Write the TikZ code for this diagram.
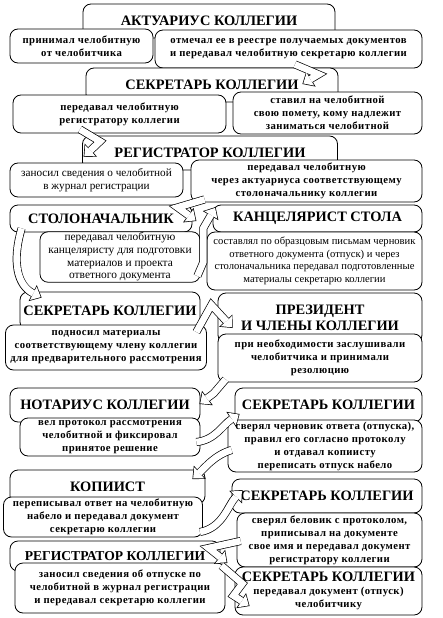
\documentclass[tikz,border=0pt]{standalone}
\usepackage{fontspec}
\setmainfont{Liberation Serif}
\newfontfamily\widefont[LetterSpace=4]{Liberation Serif}
\usetikzlibrary{arrows.meta,calc}

\begin{document}
\begin{tikzpicture}[x=1pt, y=-1pt,
  every node/.style={inner sep=1pt},
  head/.style={draw, line width=0.8pt, fill=white, rounded corners=8pt, align=center,
    font=\bfseries\fontsize{14.4}{16}\selectfont},
  note/.style={draw, line width=0.8pt, fill=white, rounded corners=8pt, align=center,
    font=\widefont\bfseries\fontsize{10.7}{13}\selectfont},
  plain note/.style={note, font=\fontsize{10.6}{12.6}\selectfont},
  flow/.style={line width=8pt, draw=black, line join=miter, miter limit=3,
    -{Triangle[length=10pt, width=18pt, line width=0pt]},
    postaction={draw=white, line width=6.6pt, line join=miter, miter limit=3,
      -{Triangle[length=8.2pt, width=14.8pt, line width=0pt]}, shorten >=1.05pt}}
]
\useasboundingbox (0,0) rectangle (442,618);

% row 1
\node[head, minimum width=252pt, minimum height=34pt] (act) at (209,21) {АКТУАРИУС КОЛЛЕГИИ};
\node[note, minimum width=143pt, minimum height=34pt] (act1) at (81.5,46) {принимал челобитную\\от челобитчика};
\node[note, minimum width=267pt, minimum height=38pt] (act2) at (288.5,49) {отмечал ее в реестре получаемых документов\\и передавал челобитную секретарю коллегии};

% row 2
\node[head, minimum width=252pt, minimum height=34pt] (sec1) at (212,85) {СЕКРЕТАРЬ КОЛЛЕГИИ};
\node[note, minimum width=213pt, minimum height=38pt] (sec1a) at (119.5,114) {передавал челобитную\\регистратору коллегии};
\node[note, minimum width=189pt, minimum height=42pt] (sec1b) at (327.5,113) {ставил на челобитной\\свою помету, кому надлежит\\заниматься челобитной};

% row 3
\node[head, minimum width=255pt, minimum height=34pt] (reg1) at (210,153) {РЕГИСТРАТОР КОЛЛЕГИИ};
\node[plain note, font=\fontsize{11.2}{13}\selectfont, minimum width=173pt, minimum height=34pt] (reg1a) at (96.5,180) {заносил сведения о челобитной\\в журнал регистрации};
\node[note, minimum width=231pt, minimum height=42pt] (reg1b) at (306.5,181) {передавал челобитную\\через актуариуса соответствующему\\столоначальнику коллегии};

% row 4
\node[head, minimum width=182pt, minimum height=27pt] (stol) at (101,218.5) {СТОЛОНАЧАЛЬНИК};
\node[head, minimum width=209pt, minimum height=27pt] (kanc) at (317.5,218.5) {КАНЦЕЛЯРИСТ СТОЛА};
\node[plain note, font=\fontsize{11.4}{12.6}\selectfont, minimum width=160pt, minimum height=50pt] (stol1) at (120,257) {передавал челобитную\\канцеляристу для подготовки\\материалов и проекта\\ответного документа};
\node[plain note, minimum width=215pt, minimum height=58pt] (kanc1) at (314.5,261) {составлял по образцовым письмам черновик\\ответного документа (отпуск) и через\\столоначальника передавал подготовленные\\материалы секретарю коллегии};

% row 5
\node[head, minimum width=180pt, minimum height=38pt] (sec2) at (110,311) {СЕКРЕТАРЬ КОЛЛЕГИИ};
\node[head, minimum width=204pt, minimum height=50pt] (prez) at (320,318) {ПРЕЗИДЕНТ\\И ЧЛЕНЫ КОЛЛЕГИИ};
\node[note, minimum width=201pt, minimum height=45pt] (sec2a) at (106,347.5) {подносил материалы\\соответствующему члену коллегии\\для предварительного рассмотрения};
\node[note, minimum width=204pt, minimum height=48pt] (prez1) at (320,358) {при необходимости заслушивали\\челобитчика и принимали\\резолюцию};

% row 6
\node[head, minimum width=190pt, minimum height=34pt] (not) at (105,405) {НОТАРИУС КОЛЛЕГИИ};
\node[head, minimum width=187pt, minimum height=34pt] (sec3) at (328.5,405) {СЕКРЕТАРЬ КОЛЛЕГИИ};
\node[note, minimum width=180pt, minimum height=38pt] (not1) at (110,437) {вел протокол рассмотрения\\челобитной и фиксировал\\принятое решение};
\node[note, minimum width=194pt, minimum height=52pt] (sec3a) at (325,446) {сверял черновик ответа (отпуска),\\правил его согласно протоколу\\и отдавал копиисту\\переписать отпуск набело};

% row 7
\node[head, minimum width=195pt, minimum height=34pt] (kop) at (107.5,487) {КОПИИСТ};
\node[head, minimum width=190pt, minimum height=34pt] (sec4) at (327,496) {СЕКРЕТАРЬ КОЛЛЕГИИ};
\node[note, minimum width=199pt, minimum height=40pt] (kop1) at (103,517) {переписывал ответ на челобитную\\набело и передавал документ\\секретарю коллегии};
\node[note, minimum width=185pt, minimum height=54pt] (sec4a) at (329.5,540) {сверял беловик с протоколом,\\приписывал на документе\\свое имя и передавал документ\\регистратору коллегии};

% row 8
\node[head, font=\bfseries\fontsize{13.6}{16}\selectfont, minimum width=210pt, minimum height=30pt] (reg2) at (115,556) {РЕГИСТРАТОР КОЛЛЕГИИ};
\node[note, minimum width=210pt, minimum height=50pt] (reg2a) at (120,588) {заносил сведения об отпуске по\\челобитной в журнал регистрации\\и передавал секретарю коллегии};
\node[note, minimum width=187pt, minimum height=48pt] (sec5) at (328.5,591) {{\normalfont\bfseries\fontsize{14.4}{17}\selectfont СЕКРЕТАРЬ КОЛЛЕГИИ}\\передавал документ (отпуск)\\челобитчику};

% arrows
\draw[flow] ($(act2.south)+(6.5,-4)$) -- ($(act2.south)+(30,6)$) -- ($(sec1.east)+(-36,-1)$);
\draw[flow] ($(sec1a.south)+(-39.5,-4)$) -- ($(sec1a.south)+(-19.5,8)$) -- ($(reg1.west)+(1.5,4)$);
\draw[flow] ($(reg1b.south west)+(14,-3)$) -- ($(reg1b.south west)+(-13,5)$) -- ($(stol.east)+(4,2.5)$);
\draw[flow] ($(stol1.east)+(-3,19)$) -- ($(stol1.east)+(3,5)$) -- ($(stol1.east)+(3,-29)$) -- ($(kanc.west)+(3,-11.5)$);
\draw[flow] ($(stol.south west)+(12,-4)$) .. controls ($(stol.south west)+(2,30)$) and ($(stol.south west)+(8,53)$) .. ($(sec2.north west)+(22,6)$);
\draw[flow] ($(sec2.east)+(-4,21)$) -- ($(sec2.east)+(11,-6)$) -- ($(prez.west)+(15,10)$);
\draw[flow] ($(prez1.south west)+(8,-3)$) -- ($(prez1.south west)+(-4,11)$) -- ($(not.east)+(-1,-1)$);
\draw[flow] ($(not1.east)+(-4,5)$) .. controls ($(not1.east)+(15,3)$) and ($(not1.east)+(22,-12)$) .. ($(sec3.west)+(5,9)$);
\draw[flow] ($(sec3a.west)+(4,4)$) .. controls ($(sec3a.west)+(-13,9)$) and ($(sec3a.west)+(-23,22)$) .. ($(kop.east)+(-13,-8)$);
\draw[flow] ($(kop1.east)+(-3,15)$) .. controls ($(kop1.east)+(20,11)$) and ($(kop1.east)+(25,-12)$) .. ($(sec4.west)+(11,-6)$);
\draw[flow] ($(sec4a.west)+(4,1)$) -- ($(sec4a.west)+(-28,8)$) -- ($(reg2.east)+(7,7)$);
\draw[flow] ($(reg2a.north east)+(-4,3)$) -- ($(reg2a.north east)+(17,21)$) -- ($(reg2a.north east)+(8,33)$) -- ($(sec5.west)+(15,15)$);
\end{tikzpicture}
\end{document}
